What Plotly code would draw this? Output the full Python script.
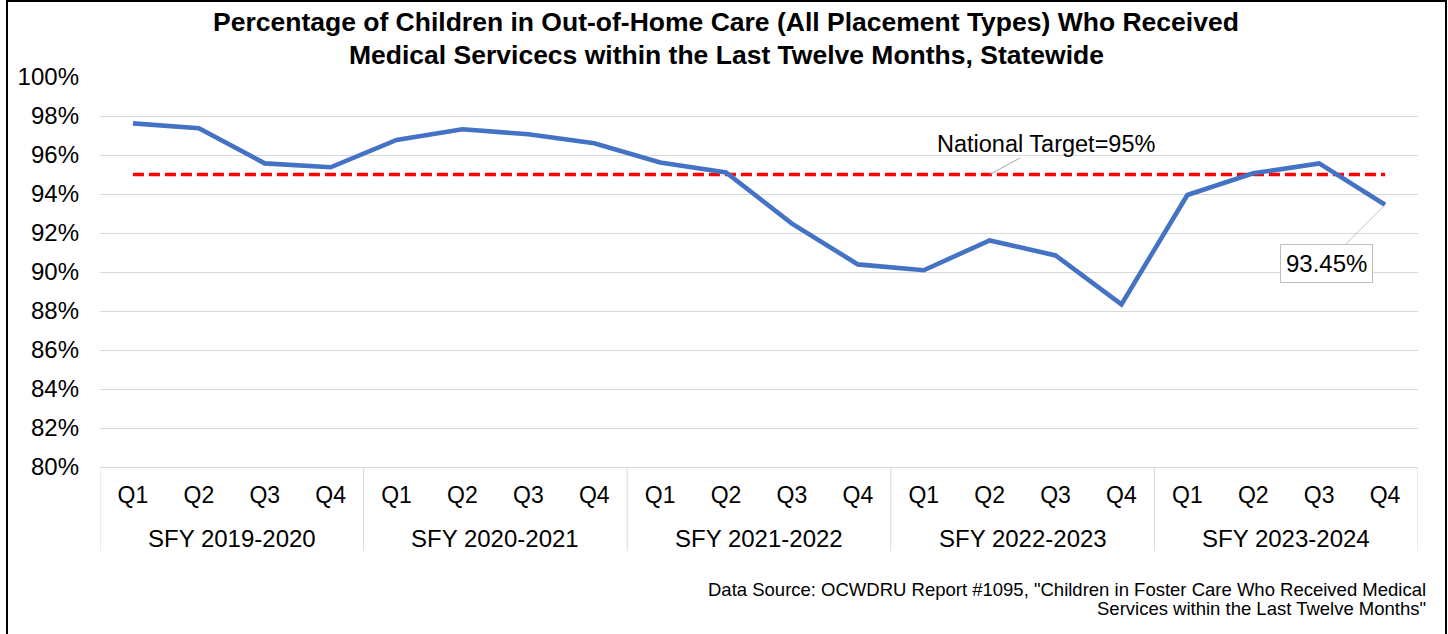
import plotly.graph_objects as go

# Quarterly statewide rate (%) of children in out-of-home care with medical services
fiscal_years = ["SFY 2019-2020", "SFY 2020-2021", "SFY 2021-2022", "SFY 2022-2023", "SFY 2023-2024"]
quarters = ["Q1", "Q2", "Q3", "Q4"]
pct_medical = [97.62, 97.37, 95.57, 95.37,
               96.77, 97.32, 97.06, 96.60,
               95.62, 95.11, 92.48, 90.39,
               90.09, 91.62, 90.85, 88.34,
               93.95, 95.06, 95.57, 93.45]
national_target = 95
y_ticks = list(range(80, 101, 2))

n_q = len(quarters)
n_points = len(pct_medical)
x_idx = list(range(n_points))
x_quarter_labels = [q for _ in fiscal_years for q in quarters]
group_centers = [g * n_q + (n_q - 1) / 2 for g in range(len(fiscal_years))]
group_edges = [g * n_q - 0.5 for g in range(len(fiscal_years) + 1)]

FONT = "Liberation Sans, Arial, sans-serif"
GRID = "#D9D9D9"

fig = go.Figure()
fig.add_trace(go.Scatter(
    x=x_idx, y=[national_target] * n_points,
    mode="lines", line=dict(color="#FF0000", width=3.4, dash="11px,5px"),
    hoverinfo="skip", showlegend=False,
))
fig.add_trace(go.Scatter(
    x=x_idx, y=pct_medical,
    mode="lines", line=dict(color="#4472C4", width=4.6),
    showlegend=False,
))

L, R, T, B = 100, 30, 77, 167
W, H = 1448, 634
pw, ph = W - L - R, H - T - B


def px_x(px):
    return (px - L) / pw


def px_y(py):
    return (H - B - py) / ph


annotations = [
    dict(text="<b>Percentage of Children in Out-of-Home Care (All Placement Types) Who Received</b>",
         xref="paper", yref="paper", x=px_x(726), y=px_y(22), xanchor="center", yanchor="middle",
         showarrow=False, font=dict(family=FONT, size=26.5, color="#000000")),
    dict(text="<b>Medical Servicecs within the Last Twelve Months, Statewide</b>",
         xref="paper", yref="paper", x=px_x(726), y=px_y(55), xanchor="center", yanchor="middle",
         showarrow=False, font=dict(family=FONT, size=26.5, color="#000000")),
    dict(text="National Target=95%", xref="x", yref="y",
         x=13, y=national_target, ax=57, ay=-31,
         showarrow=True, arrowhead=0, arrowwidth=1, arrowcolor="#A6A6A6",
         font=dict(family=FONT, size=23.5, color="#000000")),
    dict(text=f"{pct_medical[-1]:.2f}%", xref="x", yref="y",
         x=x_idx[-1], y=pct_medical[-1], ax=-59, ay=59,
         showarrow=True, arrowhead=0, arrowwidth=1, arrowcolor="#BFBFBF",
         bordercolor="#BFBFBF", borderwidth=1, borderpad=5, bgcolor="#FFFFFF",
         font=dict(family=FONT, size=24, color="#000000")),
    dict(text='Data Source: OCWDRU Report #1095, "Children in Foster Care Who Received Medical',
         xref="paper", yref="paper", x=px_x(1428), y=px_y(589), xanchor="right", yanchor="middle",
         showarrow=False, font=dict(family=FONT, size=18.5, color="#000000")),
    dict(text='Services within the Last Twelve Months"',
         xref="paper", yref="paper", x=px_x(1428), y=px_y(608), xanchor="right", yanchor="middle",
         showarrow=False, font=dict(family=FONT, size=18.5, color="#000000")),
]
# fiscal-year group labels under the quarter ticks
for fy, cx in zip(fiscal_years, group_centers):
    annotations.append(dict(
        text=fy, xref="x", yref="paper", x=cx, y=px_y(538), xanchor="center", yanchor="middle",
        showarrow=False, font=dict(family=FONT, size=24, color="#000000"),
    ))

shapes = [
    dict(type="line", xref="x", yref="paper", x0=e, x1=e, y0=0, y1=px_y(551),
         line=dict(color=GRID, width=1), layer="below")
    for e in group_edges
]
shapes.append(dict(type="rect", xref="paper", yref="paper",
                   x0=px_x(7), x1=px_x(1446), y0=px_y(645), y1=px_y(1),
                   line=dict(color="#000000", width=2), fillcolor="rgba(0,0,0,0)", layer="above"))

fig.update_layout(
    width=W, height=H,
    margin=dict(l=L, r=R, t=T, b=B, pad=0),
    paper_bgcolor="#FFFFFF", plot_bgcolor="#FFFFFF",
    font=dict(family=FONT, size=23, color="#000000"),
    annotations=annotations, shapes=shapes,
    showlegend=False,
)
fig.update_yaxes(
    range=[80, 100], tickvals=y_ticks, ticktext=[f"{v}%" for v in y_ticks],
    showgrid=True, gridcolor=GRID, gridwidth=1, zeroline=False,
    showline=False, ticks="", ticklabelstandoff=20,
    tickfont=dict(family=FONT, size=24, color="#000000"),
)
fig.update_xaxes(
    range=[-0.5, n_points - 0.5], tickvals=x_idx, ticktext=x_quarter_labels,
    showgrid=False, zeroline=False,
    showline=True, linecolor=GRID, linewidth=1,
    ticks="", ticklabelstandoff=7,
    tickfont=dict(family=FONT, size=23, color="#000000"),
)

fig.write_html("out.html")
